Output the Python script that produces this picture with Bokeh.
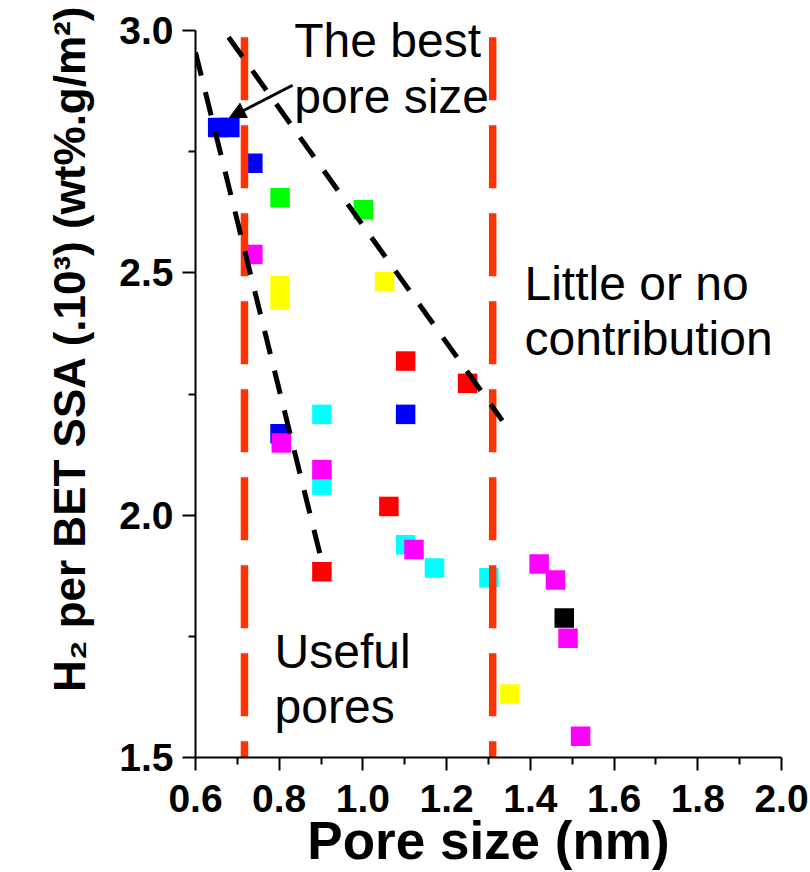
from bokeh.plotting import figure
from bokeh.models import FixedTicker, PrintfTickFormatter, Label, Arrow, NormalHead, Range1d
from bokeh.embed import file_html
from bokeh.resources import INLINE

# ---- data ----
blue_x = [0.653, 0.682, 0.737, 1.102, 0.802]
blue_y = [2.800, 2.800, 2.726, 2.208, 2.168]
green_x = [0.802, 1.001]
green_y = [2.655, 2.630]
yellow_x = [0.802, 0.802, 1.052, 1.351]
yellow_y = [2.474, 2.444, 2.482, 1.631]
red_x = [1.102, 1.250, 1.062, 0.902]
red_y = [2.318, 2.272, 2.018, 1.883]
cyan_x = [0.902, 0.902, 1.102, 1.171, 1.301]
cyan_y = [2.208, 2.062, 1.939, 1.891, 1.871]
black_x = [1.481]
black_y = [1.788]
magenta_x = [0.737, 0.805, 0.902, 1.122, 1.421, 1.460, 1.490, 1.520]
magenta_y = [2.538, 2.149, 2.094, 1.929, 1.899, 1.866, 1.746, 1.544]

boundary_x = [0.717, 1.310]        # region boundaries (nm)
boundary_y = [2.986, 1.500]
trend1_x = [0.600, 0.903]
trend1_y = [2.955, 1.900]
trend2_x = [0.679, 1.333]
trend2_y = [2.986, 2.195]

x_ticks = [0.6, 0.8, 1.0, 1.2, 1.4, 1.6, 1.8, 2.0]
x_minor = [0.7, 0.9, 1.1, 1.3, 1.5, 1.7, 1.9]
y_ticks = [1.5, 2.0, 2.5, 3.0]
y_minor = [1.75, 2.25, 2.75]
y_lo, y_hi = 1.5, 3.0

FONT = "Liberation Sans"
PX_PER_Y = 727 / 1.5   # frame pixels per y unit

# frame reaches the canvas top (so the top note is not clipped); y axis pinned to data range
p = figure(width=810, height=872, x_range=Range1d(0.6, 2.0),
           y_range=Range1d(y_lo, y_hi + 30 / PX_PER_Y),
           output_backend="svg", toolbar_location=None,
           min_border_left=195, min_border_right=29, min_border_top=0, min_border_bottom=115)
p.xgrid.visible = False
p.ygrid.visible = False
p.outline_line_color = None
p.background_fill_color = "white"
p.border_fill_color = "white"

p.xaxis.ticker = FixedTicker(ticks=x_ticks, minor_ticks=x_minor)
p.yaxis.ticker = FixedTicker(ticks=y_ticks, minor_ticks=y_minor)
p.yaxis.bounds = (y_lo, y_hi)
for ax in (p.xaxis[0], p.yaxis[0]):
    ax.formatter = PrintfTickFormatter(format="%.1f")
    ax.axis_line_width = 2
    ax.axis_line_color = "black"
    ax.major_tick_line_width = 2
    ax.minor_tick_line_width = 2
    ax.major_tick_in = 0
    ax.major_tick_out = 13
    ax.minor_tick_in = 0
    ax.minor_tick_out = 7
    ax.major_label_text_font = FONT
    ax.major_label_text_font_style = "bold"
    ax.major_label_text_font_size = "39px"
    ax.major_label_text_color = "black"
p.xaxis.major_label_standoff = 14
p.xaxis.major_label_text_line_height = 0.8
p.yaxis.major_label_standoff = 9

NB = "\u00a0"
p.yaxis.axis_label = NB * 5 + "H\u2082 per BET SSA (.10\u00b3) (wt%.g/m\u00b2)"
p.yaxis.axis_label_text_font = FONT
p.yaxis.axis_label_text_font_style = "bold"
p.yaxis.axis_label_text_font_size = "44px"
p.yaxis.axis_label_text_color = "black"
p.yaxis.axis_label_standoff = 22

p.xaxis.axis_label = "Pore size (nm)"
p.xaxis.axis_label_text_font = FONT
p.xaxis.axis_label_text_font_style = "bold"
p.xaxis.axis_label_text_font_size = "53px"
p.xaxis.axis_label_text_color = "black"
p.xaxis.axis_label_text_line_height = 0.8
p.xaxis.axis_label_standoff = -4

SZ = 19.5
p.scatter(cyan_x, cyan_y, marker="square", size=SZ, fill_color="#00FFFF", line_color=None)
p.scatter(blue_x, blue_y, marker="square", size=SZ, fill_color="#0000FF", line_color=None)
p.scatter(green_x, green_y, marker="square", size=SZ, fill_color="#00FF00", line_color=None)
p.scatter(yellow_x, yellow_y, marker="square", size=SZ, fill_color="#FFFF00", line_color=None)
p.scatter(red_x, red_y, marker="square", size=SZ, fill_color="#FF0000", line_color=None)
p.scatter(black_x, black_y, marker="square", size=SZ, fill_color="#000000", line_color=None)
p.scatter(magenta_x, magenta_y, marker="square", size=SZ, fill_color="#FF00FF", line_color=None)

for bx in boundary_x:
    p.line([bx, bx], boundary_y, line_color="#FF3300", line_width=7.5, line_dash="63 25")

p.line(trend1_x, trend1_y, line_color="black", line_width=5, line_dash="24 17")
p.line(trend2_x, trend2_y, line_color="black", line_width=5, line_dash="24 17")

p.add_layout(Arrow(end=NormalHead(size=16, fill_color="black", line_color="black"),
                   x_start=0.832, y_start=2.887, x_end=0.681, y_end=2.820,
                   line_width=3, line_color="black"))

def note(txt, x, y, size="48px"):
    p.add_layout(Label(x=x, y=y, text=txt, text_font=FONT,
                       text_font_size=size, text_color="black",
                       text_align="left", text_baseline="alphabetic"))

note("The best", 0.836, 2.979)
note("pore size", 0.836, 2.864)
note("Little or no", 1.386, 2.478)
note("contribution", 1.386, 2.365)
note("Useful", 0.789, 1.719)
note("pores", 0.789, 1.605)

open("out.html", "w").write(file_html(p, INLINE))
